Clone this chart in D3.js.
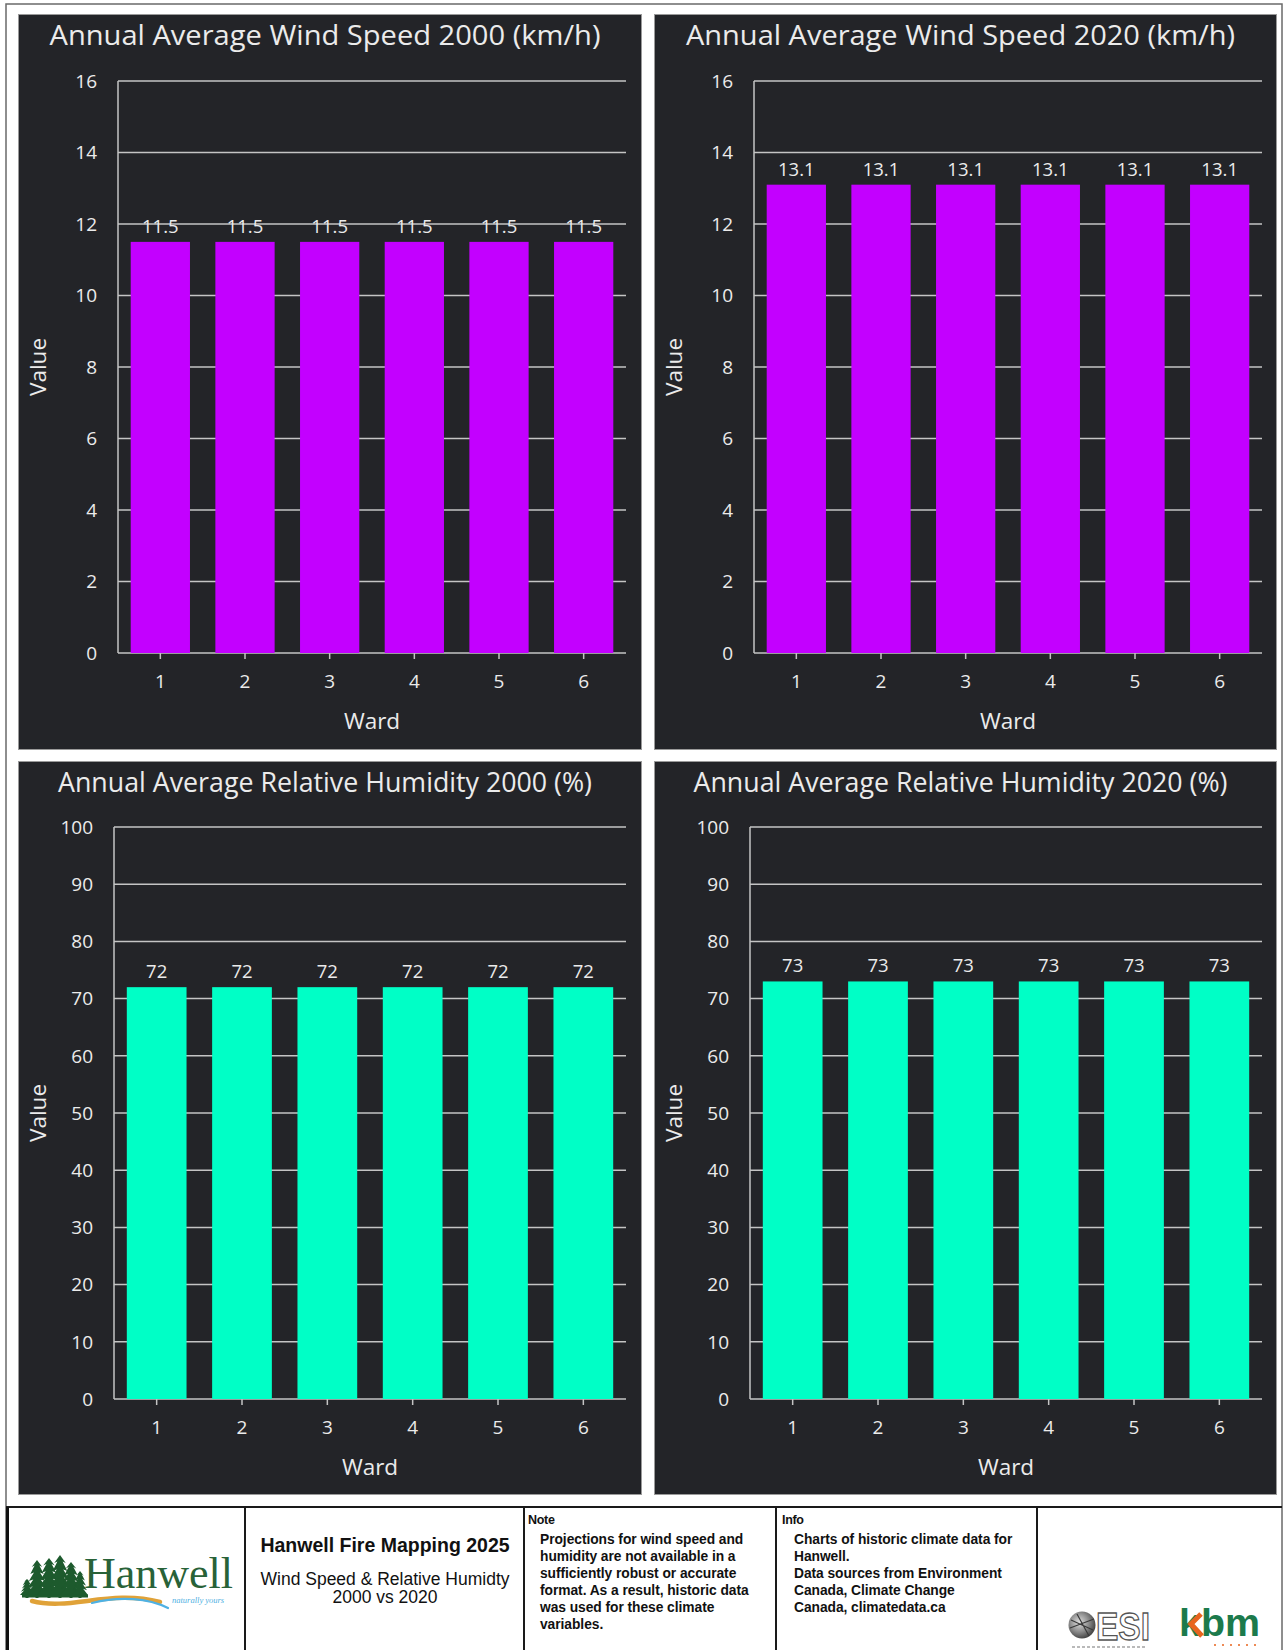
<!DOCTYPE html>
<html>
<head>
<meta charset="utf-8">
<script src="https://cdn.jsdelivr.net/npm/d3@7"></script>
<style>
  html, body { margin: 0; padding: 0; background: #ffffff; }
  svg { display: block; }
</style>
</head>
<body>
<svg id="page" width="1284" height="1650"></svg>
<script>
// ---- data ----
const wards = ["1", "2", "3", "4", "5", "6"];
const windSpeed2000 = [11.5, 11.5, 11.5, 11.5, 11.5, 11.5];
const windSpeed2020 = [13.1, 13.1, 13.1, 13.1, 13.1, 13.1];
const humidity2000 = [72, 72, 72, 72, 72, 72];
const humidity2020 = [73, 73, 73, 73, 73, 73];
const windTicks = [0, 2, 4, 6, 8, 10, 12, 14, 16];
const humidityTicks = [0, 10, 20, 30, 40, 50, 60, 70, 80, 90, 100];
const chartTitles = [
  "Annual Average Wind Speed 2000 (km/h)",
  "Annual Average Wind Speed 2020 (km/h)",
  "Annual Average Relative Humidity 2000 (%)",
  "Annual Average Relative Humidity 2020 (%)"
];
const xAxisTitle = "Ward";
const yAxisTitle = "Value";
const mapTitle = "Hanwell Fire Mapping 2025";
const mapSubtitle = ["Wind Speed & Relative Humidty", "2000 vs 2020"];
const noteLines = [
  "Projections for wind speed and",
  "humidity are not available in a",
  "sufficiently robust or accurate",
  "format. As a result, historic data",
  "was used for these climate",
  "variables."
];
const infoLines = [
  "Charts of historic climate data for",
  "Hanwell.",
  "Data sources from Environment",
  "Canada, Climate Change",
  "Canada, climatedata.ca"
];

// ---- styling ----
const PANEL_BG = "#232428";
const GRID = "#c4c4c4";
const TEXT = "#ebebeb";
const WIND_COLOR = "#c300ff";
const HUMID_COLOR = "#00ffc6";
const CHART_FONT = "'Open Sans', 'Noto Sans', sans-serif";
const SANS = "'Liberation Sans', Arial, sans-serif";

const svg = d3.select("#page");
const defs = svg.append("defs");
svg.append("rect").attr("width", 1284).attr("height", 1650).attr("fill", "#ffffff");

// page frame
svg.append("rect")
  .attr("x", 6).attr("y", 4).attr("width", 1276).attr("height", 1660)
  .attr("fill", "none").attr("stroke", "#6a6a6a").attr("stroke-width", 1.5);

const panels = [
  { x: 18,  y: 14,  w: 624, h: 736, title: chartTitles[0], titleW: 551, values: windSpeed2000, ticks: windTicks, max: 16,  color: WIND_COLOR,  fmt: d3.format(".1f"), m: { l: 100, r: 608, t: 67, b: 639 } },
  { x: 654, y: 14,  w: 623, h: 736, title: chartTitles[1], titleW: 549, values: windSpeed2020, ticks: windTicks, max: 16,  color: WIND_COLOR,  fmt: d3.format(".1f"), m: { l: 100, r: 608, t: 67, b: 639 } },
  { x: 18,  y: 761, w: 624, h: 734, title: chartTitles[2], titleW: 534, values: humidity2000,  ticks: humidityTicks, max: 100, color: HUMID_COLOR, fmt: d3.format("d"), m: { l: 96, r: 608, t: 66, b: 638 } },
  { x: 654, y: 761, w: 623, h: 734, title: chartTitles[3], titleW: 534, values: humidity2020,  ticks: humidityTicks, max: 100, color: HUMID_COLOR, fmt: d3.format("d"), m: { l: 96, r: 608, t: 66, b: 638 } }
];

panels.forEach(p => {
  const g = svg.append("g").attr("transform", `translate(${p.x},${p.y})`);
  g.append("rect")
    .attr("x", 0.5).attr("y", 0.5).attr("width", p.w - 1).attr("height", p.h - 1)
    .attr("fill", PANEL_BG).attr("stroke", "#9a9a9a").attr("stroke-width", 1);

  const x = d3.scaleBand().domain(wards).range([p.m.l, p.m.r]).paddingInner(0.3).paddingOuter(0.15);
  const y = d3.scaleLinear().domain([0, p.max]).range([p.m.b, p.m.t]);

  // title
  g.append("text")
    .attr("x", p.w / 2 - 5).attr("y", 31)
    .attr("text-anchor", "middle")
    .attr("font-family", CHART_FONT).attr("font-size", 27.5)
    .attr("textLength", p.titleW).attr("lengthAdjust", "spacingAndGlyphs")
    .attr("fill", TEXT)
    .text(p.title);

  // horizontal grid lines
  g.append("g").selectAll("line").data(p.ticks).join("line")
    .attr("x1", p.m.l).attr("x2", p.m.r)
    .attr("y1", d => y(d)).attr("y2", d => y(d))
    .attr("stroke", GRID).attr("stroke-width", 1.5);

  // y axis line
  g.append("line")
    .attr("x1", p.m.l).attr("x2", p.m.l)
    .attr("y1", y(p.max)).attr("y2", y(0))
    .attr("stroke", GRID).attr("stroke-width", 1.5);

  // y tick labels
  g.append("g").selectAll("text").data(p.ticks).join("text")
    .attr("x", p.m.l - 21).attr("y", d => y(d))
    .attr("dy", "0.36em")
    .attr("text-anchor", "end")
    .attr("font-family", CHART_FONT).attr("font-size", 19)
    .attr("fill", TEXT)
    .text(d => d);

  // x axis ticks and labels
  const xAxis = d3.axisBottom(x).tickSize(6).tickPadding(8);
  const ax = g.append("g").attr("transform", `translate(0,${y(0)})`).call(xAxis);
  ax.select(".domain").remove();
  ax.selectAll(".tick line").attr("stroke", GRID).attr("stroke-width", 1.5);
  ax.selectAll(".tick text")
    .attr("font-family", CHART_FONT).attr("font-size", 19)
    .attr("fill", TEXT).attr("y", 28).attr("dy", "0.36em");

  // bars
  g.append("g").selectAll("rect").data(p.values).join("rect")
    .attr("x", (d, i) => x(wards[i]))
    .attr("y", d => y(d))
    .attr("width", x.bandwidth())
    .attr("height", d => y(0) - y(d))
    .attr("fill", p.color);

  // value labels
  g.append("g").selectAll("text").data(p.values).join("text")
    .attr("x", (d, i) => x(wards[i]) + x.bandwidth() / 2)
    .attr("y", d => y(d) - 9)
    .attr("text-anchor", "middle")
    .attr("font-family", CHART_FONT).attr("font-size", 18.5)
    .attr("fill", TEXT)
    .text(d => p.fmt(d));

  // axis titles
  g.append("text")
    .attr("x", (p.m.l + p.m.r) / 2).attr("y", y(0) + 68).attr("dy", "0.36em")
    .attr("text-anchor", "middle")
    .attr("font-family", CHART_FONT).attr("font-size", 22.5)
    .attr("fill", TEXT)
    .text(xAxisTitle);

  g.append("text")
    .attr("transform", `translate(20,${(p.m.t + p.m.b) / 2}) rotate(-90)`)
    .attr("dy", "0.36em")
    .attr("text-anchor", "middle")
    .attr("font-family", CHART_FONT).attr("font-size", 22.5)
    .attr("fill", TEXT)
    .text(yAxisTitle);
});

// ---- title block ----
const foot = svg.append("g");
const FOOT_TOP = 1507;
foot.append("line").attr("x1", 6).attr("x2", 1282).attr("y1", FOOT_TOP).attr("y2", FOOT_TOP)
  .attr("stroke", "#1a1a1a").attr("stroke-width", 2);
foot.append("line").attr("x1", 7.5).attr("x2", 7.5).attr("y1", FOOT_TOP).attr("y2", 1650)
  .attr("stroke", "#111").attr("stroke-width", 3);
[245, 524, 776, 1037].forEach(xv => {
  foot.append("line").attr("x1", xv).attr("x2", xv).attr("y1", FOOT_TOP).attr("y2", 1650)
    .attr("stroke", "#1a1a1a").attr("stroke-width", 2);
});

// Hanwell logo: conifers over a river swoosh
function conifer(cx, top, bottom, hw) {
  const tiers = 5, pts = [[cx, top]];
  for (let i = 1; i <= tiers; i++) {
    const yy = top + (bottom - top - 3) * i / tiers;
    const w = hw * (0.35 + 0.65 * i / tiers);
    pts.push([cx + w, yy]);
    if (i < tiers) pts.push([cx + w * 0.45, yy - 1.5]);
  }
  pts.push([cx + 1.5, bottom - 3], [cx + 1.5, bottom], [cx - 1.5, bottom], [cx - 1.5, bottom - 3]);
  for (let i = tiers; i >= 1; i--) {
    const yy = top + (bottom - top - 3) * i / tiers;
    const w = hw * (0.35 + 0.65 * i / tiers);
    if (i < tiers) pts.push([cx - w * 0.45, yy - 1.5]);
    pts.push([cx - w, yy]);
  }
  return "M" + pts.map(q => q.join(",")).join("L") + "Z";
}
const logo = foot.append("g");
const trees = [
  { cx: 27, top: 1579, bottom: 1598, hw: 7 },
  { cx: 37, top: 1560, bottom: 1598, hw: 11 },
  { cx: 49, top: 1558, bottom: 1598, hw: 12 },
  { cx: 60, top: 1555, bottom: 1598, hw: 12 },
  { cx: 71, top: 1562, bottom: 1598, hw: 11 },
  { cx: 80, top: 1571, bottom: 1598, hw: 8 }
];
logo.selectAll("path.tree").data(trees).join("path")
  .attr("class", "tree")
  .attr("d", t => conifer(t.cx, t.top, t.bottom, t.hw))
  .attr("fill", "#1d5a2d");
logo.append("path")
  .attr("d", "M22,1596 L88,1596")
  .attr("stroke", "#1d5a2d").attr("stroke-width", 3);
logo.append("path")
  .attr("d", "M32,1601 C70,1611 110,1589 160,1602")
  .attr("fill", "none").attr("stroke", "#e0a238").attr("stroke-width", 4.5).attr("stroke-linecap", "round");
logo.append("path")
  .attr("d", "M92,1603 C120,1596 148,1598 168,1608")
  .attr("fill", "none").attr("stroke", "#4fb1e3").attr("stroke-width", 2.2).attr("stroke-linecap", "round");
logo.append("text")
  .attr("x", 84).attr("y", 1588)
  .attr("font-family", "'Liberation Serif', 'DejaVu Serif', serif")
  .attr("font-size", 44).attr("fill", "#286238")
  .text("Hanwell");
logo.append("text")
  .attr("x", 172).attr("y", 1603)
  .attr("font-family", "'Liberation Serif', serif").attr("font-style", "italic")
  .attr("font-size", 8.5).attr("fill", "#4fb1e3")
  .text("naturally yours");

// map title
foot.append("text")
  .attr("x", 385).attr("y", 1552).attr("text-anchor", "middle")
  .attr("font-family", SANS).attr("font-weight", "bold")
  .attr("font-size", 19.5).attr("fill", "#111")
  .text(mapTitle);
foot.selectAll("text.sub").data(mapSubtitle).join("text")
  .attr("class", "sub")
  .attr("x", 385).attr("y", (d, i) => 1585 + i * 18).attr("text-anchor", "middle")
  .attr("font-family", SANS)
  .attr("font-size", 17.5).attr("fill", "#111")
  .text(d => d);

// note and info columns
function textColumn(x0, heading, lines) {
  foot.append("text")
    .attr("x", x0).attr("y", 1524)
    .attr("font-family", SANS).attr("font-weight", "bold")
    .attr("font-size", 12.5).attr("letter-spacing", -0.3).attr("fill", "#111")
    .text(heading);
  foot.append("g").selectAll("text").data(lines).join("text")
    .attr("x", x0 + 12).attr("y", (d, i) => 1544 + i * 17)
    .attr("font-family", SANS).attr("font-weight", "bold")
    .attr("font-size", 13.8).attr("letter-spacing", -0.05).attr("fill", "#111")
    .text(d => d);
}
textColumn(528, "Note", noteLines);
textColumn(782, "Info", infoLines);

// ESI logo
const esi = foot.append("g");
const globeGrad = defs.append("radialGradient").attr("id", "globe")
  .attr("cx", "40%").attr("cy", "40%").attr("r", "60%");
globeGrad.append("stop").attr("offset", "0%").attr("stop-color", "#e0e0e0");
globeGrad.append("stop").attr("offset", "60%").attr("stop-color", "#8a8a8a");
globeGrad.append("stop").attr("offset", "100%").attr("stop-color", "#4a4a4a");
esi.append("circle").attr("cx", 1082).attr("cy", 1625).attr("r", 13.5).attr("fill", "url(#globe)");
esi.append("path").attr("d", "M1071,1620 L1093,1630 M1077,1614 L1089,1636 M1070,1628 L1094,1619")
  .attr("stroke", "#3a3a3a").attr("stroke-width", 1.2);
esi.append("text")
  .attr("x", 1096).attr("y", 1640)
  .attr("font-family", SANS).attr("font-weight", "bold")
  .attr("font-size", 38).attr("fill", "#ffffff").attr("stroke", "#555").attr("stroke-width", 1.3)
  .attr("textLength", 54).attr("lengthAdjust", "spacingAndGlyphs")
  .text("ESI");
esi.append("line").attr("x1", 1072).attr("x2", 1145).attr("y1", 1647).attr("y2", 1647)
  .attr("stroke", "#777").attr("stroke-width", 1.2).attr("stroke-dasharray", "3,2");

// kbm logo
const kbm = foot.append("g");
kbm.append("text")
  .attr("x", 1179).attr("y", 1636)
  .attr("font-family", SANS).attr("font-weight", "bold")
  .attr("font-size", 39).attr("fill", "#1c7a4c")
  .attr("textLength", 81).attr("lengthAdjust", "spacingAndGlyphs")
  .text("kbm");
kbm.append("path")
  .attr("d", "M1201,1614 L1191,1624 L1202,1636")
  .attr("fill", "none").attr("stroke", "#e8641e").attr("stroke-width", 5);
kbm.append("line").attr("x1", 1214).attr("x2", 1256).attr("y1", 1645).attr("y2", 1645)
  .attr("stroke", "#e8641e").attr("stroke-width", 1.5).attr("stroke-dasharray", "2,6");
</script>
</body>
</html>
